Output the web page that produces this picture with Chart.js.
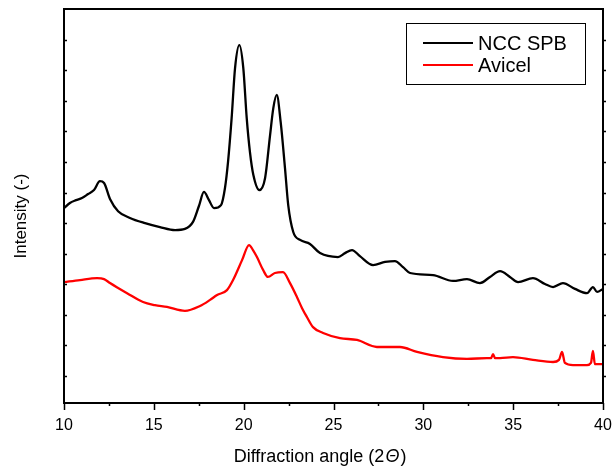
<!DOCTYPE html>
<html>
<head>
<meta charset="utf-8">
<script src="https://cdn.jsdelivr.net/npm/chart.js@4/dist/chart.umd.min.js"></script>
<style>
  html, body { margin: 0; padding: 0; background: #fff; }
  #wrap { width: 612px; height: 469px; }
</style>
</head>
<body>
<div id="wrap"><canvas id="c" width="612" height="469"></canvas></div>
<script>
// ---- data ----
const ncc_x = [10.00,10.33,10.67,11.00,11.34,11.67,12.00,12.23,12.56,13.01,13.67,14.51,15.34,16.18,16.73,17.18,17.51,17.79,18.07,18.35,18.74,18.96,19.13,19.33,19.52,19.76,19.98,20.17,20.35,20.54,20.87,21.19,21.47,21.65,21.84,22.06,22.30,22.48,22.76,23.14,23.69,24.25,25.25,25.64,26.03,26.47,27.20,27.87,28.42,28.87,29.26,30.54,31.65,32.43,33.15,33.71,34.27,34.82,35.27,36.10,36.77,37.22,37.77,38.44,39.11,39.44,39.67,40.00];
const ncc_y = [637,654,663,670,683,696,725,719,667,627,605,588,575,565,569,592,644,690,663,637,647,703,788,931,1095,1170,1095,931,820,745,696,735,876,964,1007,918,768,647,559,533,520,490,477,490,500,480,451,461,464,444,425,418,399,405,392,412,431,412,395,408,389,379,392,373,359,379,363,373];

const avicel_x = [10.00,10.89,11.84,12.23,12.56,13.01,13.51,14.40,15.06,15.73,16.73,17.57,18.13,18.52,19.07,19.41,19.91,20.30,20.52,20.74,21.08,21.35,21.74,22.19,22.58,22.97,23.25,23.52,23.86,24.42,25.36,26.31,27.42,28.70,29.65,31.09,32.43,33.54,33.77,33.88,33.99,34.27,34.99,36.10,37.22,37.55,37.72,37.88,38.33,39.11,39.33,39.44,39.55,40.00];
const avicel_y = [395,402,408,405,392,376,359,330,320,314,301,317,337,353,369,402,467,516,500,477,435,412,425,428,392,346,310,281,248,229,212,206,183,183,167,150,144,147,147,160,147,147,150,141,134,141,167,131,124,124,131,170,127,127];

const seriesLabels = ['NCC SPB', 'Avicel'];
const seriesColors = ['#000000', '#ff0000'];

const xMajorTicks = [10, 15, 20, 25, 30, 35, 40];
const xMinorTicks = [12.5, 17.5, 22.5, 27.5, 32.5, 37.5];
const yTickValues = [88, 188, 288, 388, 488, 588, 688, 788, 888, 988, 1088, 1188];

const xTitle = ['Diffraction angle (2', '\u0398', ')'];
const yTitle = 'Intensity (-)';

const FONT = '"Liberation Sans", Arial, Helvetica, sans-serif';

function pts(xs, ys) { return xs.map((x, i) => ({ x: x, y: ys[i] })); }

const framePlugin = {
  id: 'frame',
  afterDraw(chart) {
    const ctx = chart.ctx;
    const a = chart.chartArea;
    const xs = chart.scales.x, ys = chart.scales.y;
    ctx.save();
    ctx.strokeStyle = '#000';
    ctx.lineWidth = 2;
    ctx.strokeRect(a.left, a.top, a.right - a.left, a.bottom - a.top);
    ctx.lineWidth = 1.5;
    ctx.beginPath();
    yTickValues.forEach(v => {
      const py = Math.round(ys.getPixelForValue(v)) + 0.5;
      ctx.moveTo(a.left, py); ctx.lineTo(a.left + 3, py);
      ctx.moveTo(a.right, py); ctx.lineTo(a.right + 3, py);
    });
    xMinorTicks.forEach(v => {
      const px = Math.round(xs.getPixelForValue(v)) + 0.5;
      ctx.moveTo(px, a.bottom); ctx.lineTo(px, a.bottom + 3);
    });
    xMajorTicks.forEach(v => {
      const px = Math.round(xs.getPixelForValue(v)) + 0.5;
      ctx.moveTo(px, a.bottom); ctx.lineTo(px, a.bottom + 7);
    });
    ctx.stroke();

    // x title with italic theta
    ctx.fillStyle = '#000';
    ctx.textBaseline = 'alphabetic';
    const fN = '18px ' + FONT, fI = 'italic 18px ' + FONT;
    ctx.font = fN; const w0 = ctx.measureText(xTitle[0]).width;
    ctx.font = fI; const w1 = ctx.measureText(xTitle[1]).width;
    ctx.font = fN; const w2 = ctx.measureText(xTitle[2]).width;
    const total = w0 + w1 + w2 + 2;
    let tx = 320 - total / 2;
    const ty = 462;
    ctx.font = fN; ctx.fillText(xTitle[0], tx, ty); tx += w0 + 1;
    ctx.font = fI; ctx.fillText(xTitle[1], tx, ty); tx += w1 + 1;
    ctx.font = fN; ctx.fillText(xTitle[2], tx, ty);

    // y title
    ctx.save();
    ctx.translate(21, 216);
    ctx.rotate(-Math.PI / 2);
    ctx.font = '17px ' + FONT;
    ctx.textAlign = 'center';
    ctx.textBaseline = 'middle';
    ctx.fillText(yTitle, 0, 0);
    ctx.restore();

    // legend box
    const bx = 406.5, by = 23.5, bw = 179, bh = 61;
    ctx.lineWidth = 1;
    ctx.strokeStyle = '#000';
    ctx.fillStyle = '#fff';
    ctx.fillRect(bx, by, bw, bh);
    ctx.strokeRect(bx, by, bw, bh);
    chart.data.datasets.forEach((ds, i) => {
      const ly = 43 + i * 22;
      ctx.strokeStyle = ds.borderColor;
      ctx.lineWidth = 2;
      ctx.beginPath(); ctx.moveTo(423, ly); ctx.lineTo(473, ly); ctx.stroke();
      ctx.fillStyle = '#000';
      ctx.font = '20px ' + FONT;
      ctx.textAlign = 'left';
      ctx.textBaseline = 'middle';
      ctx.fillText(ds.label, 478, ly + 1);
    });
    ctx.restore();
  }
};

new Chart(document.getElementById('c'), {
  type: 'line',
  data: {
    datasets: [
      { label: seriesLabels[0], data: pts(ncc_x, ncc_y), borderColor: seriesColors[0], borderWidth: 2.3, pointRadius: 0, tension: 0.35, cubicInterpolationMode: 'monotone', fill: false },
      { label: seriesLabels[1], data: pts(avicel_x, avicel_y), borderColor: seriesColors[1], borderWidth: 2.3, pointRadius: 0, tension: 0.35, cubicInterpolationMode: 'monotone', fill: false }
    ]
  },
  options: {
    responsive: false,
    animation: false,
    events: [],
    layout: { padding: { left: 0, right: 0, top: 9, bottom: 0 } },
    plugins: { legend: { display: false }, tooltip: { enabled: false } },
    scales: {
      x: {
        type: 'linear', min: 10, max: 40,
        afterBuildTicks: s => { s.ticks = xMajorTicks.map(v => ({ value: v })); },
        afterFit: s => { s.height = 66; s.paddingRight = 9; },
        grid: { display: false, drawTicks: false },
        border: { display: false },
        ticks: { color: '#000', font: { family: FONT, size: 16 }, padding: 13, maxRotation: 0, autoSkip: false }
      },
      y: {
        type: 'linear', min: 0, max: 1288,
        afterFit: s => { s.width = 64; },
        grid: { display: false, drawTicks: false },
        border: { display: false },
        ticks: { display: false }
      }
    }
  },
  plugins: [framePlugin]
});
</script>
</body>
</html>
